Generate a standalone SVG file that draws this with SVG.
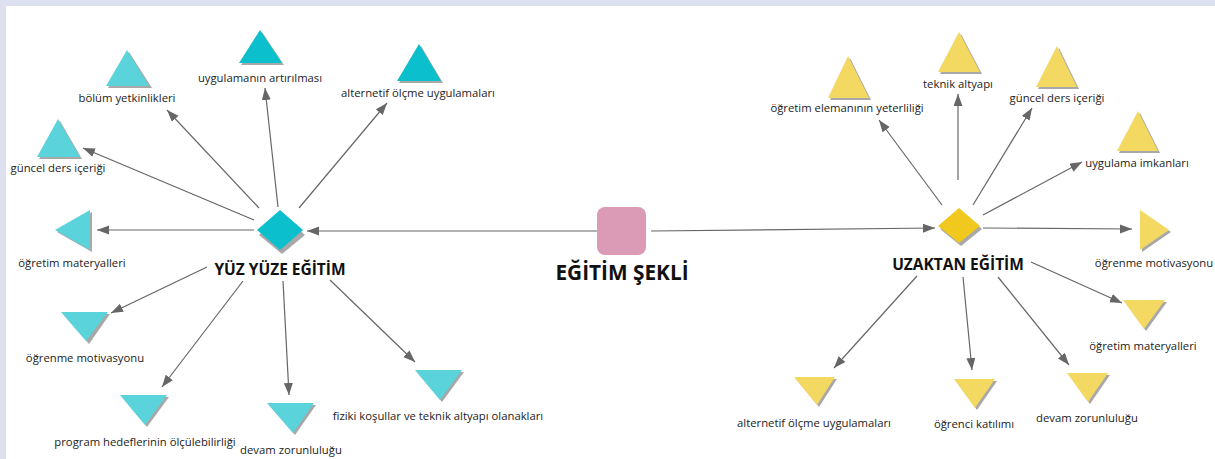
<svg xmlns="http://www.w3.org/2000/svg" width="1215" height="459" viewBox="0 0 1215 459">
<defs>
<marker id="ah" markerUnits="userSpaceOnUse" markerWidth="13" markerHeight="10" refX="12" refY="4.5" orient="auto">
<path d="M0,0 L12,4.5 L0,9 z" fill="#666"/>
</marker>
<style>
.bg{fill:#dde0ee}
.lbl{font-family:"Open Sans","Noto Sans","Liberation Sans",sans-serif;font-size:11.3px;fill:#222;text-anchor:middle}
.hub{font-family:"Open Sans","Noto Sans","Liberation Sans",sans-serif;font-weight:bold;font-size:15.5px;fill:#111;text-anchor:middle}
.main{font-family:"Open Sans","Noto Sans","Liberation Sans",sans-serif;font-weight:bold;font-size:20.8px;fill:#111;text-anchor:middle}
.sh{fill:#a8a8a8}
.c1{fill:#5ad3db}
.c2{fill:#0cbfcc}
.y1{fill:#f3d862}
.y2{fill:#f0c81e}
.ln{stroke:#666;stroke-width:1.2;fill:none;marker-end:url(#ah)}
</style>
</defs>
<rect x="0" y="0" width="1215" height="459" fill="#ffffff"/>
<rect class="bg" x="0" y="0" width="1215" height="6"/>
<rect class="bg" x="0" y="0" width="6" height="459"/>

<g id="connectors">
<line class="ln" x1="597" y1="231" x2="307" y2="231"/>
<line class="ln" x1="651" y1="231" x2="935" y2="228"/>
<line class="ln" x1="259" y1="208" x2="167" y2="110"/>
<line class="ln" x1="278" y1="207" x2="265" y2="88"/>
<line class="ln" x1="299" y1="208" x2="387" y2="103"/>
<line class="ln" x1="254" y1="220" x2="83" y2="148"/>
<line class="ln" x1="254" y1="230" x2="97" y2="230"/>
<line class="ln" x1="207" y1="267" x2="111" y2="313"/>
<line class="ln" x1="243" y1="281" x2="162" y2="387"/>
<line class="ln" x1="283" y1="281" x2="289" y2="395"/>
<line class="ln" x1="330" y1="280" x2="415" y2="362"/>
<line class="ln" x1="942" y1="205" x2="879" y2="120"/>
<line class="ln" x1="958" y1="180" x2="958" y2="94"/>
<line class="ln" x1="973" y1="205" x2="1032" y2="108"/>
<line class="ln" x1="983" y1="215" x2="1082" y2="162"/>
<line class="ln" x1="983" y1="228" x2="1132" y2="229"/>
<line class="ln" x1="1031" y1="262" x2="1122" y2="303"/>
<line class="ln" x1="917" y1="276" x2="834" y2="368"/>
<line class="ln" x1="963" y1="277" x2="972" y2="370"/>
<line class="ln" x1="998" y1="277" x2="1069" y2="365"/>
</g>

<g id="egitim-sekli">
<rect x="597" y="207" width="49" height="48" rx="8" fill="#db9bb7"/>
<text class="main" x="622" y="280">EĞİTİM ŞEKLİ</text>
</g>

<g id="yuz-yuze">
<polygon class="sh" points="282,214 305,235 282,254 259,235"/>
<polygon class="c2" points="280,210 303,230 280,250 257,230"/>
<text class="hub" x="280" y="275">YÜZ YÜZE EĞİTİM</text>
</g>

<g id="uzaktan">
<polygon class="sh" points="961,211 982,229 961,246 940,229"/>
<polygon class="y2" points="959,208 980,226 959,243 938,226"/>
<text class="hub" x="958" y="270">UZAKTAN EĞİTİM</text>
</g>

<g id="l-bolum">
<polygon class="sh" points="129,52 152,88 108,88"/>
<polygon class="c1" points="127,50 149,86 106,86"/>
<text class="lbl" x="127" y="102">bölüm yetkinlikleri</text>
</g>
<g id="l-uygulamanin">
<polygon class="sh" points="262,32 284,65 241,65"/>
<polygon class="c2" points="260,30 282,63 239,63"/>
<text class="lbl" x="260" y="82">uygulamanın artırılması</text>
</g>
<g id="l-alternetif">
<polygon class="sh" points="421,46 443,83 399,83"/>
<polygon class="c2" points="419,44 441,81 397,81"/>
<text class="lbl" x="418" y="97">alternetif ölçme uygulamaları</text>
</g>
<g id="l-guncel">
<polygon class="sh" points="60,121 82,159 39,159"/>
<polygon class="c1" points="58,119 80,157 37,157"/>
<text class="lbl" x="58" y="172">güncel ders içeriği</text>
</g>
<g id="l-ogretim-mat">
<polygon class="sh" points="57,232 92,212 92,252"/>
<polygon class="c1" points="55,230 90,210 90,250"/>
<text class="lbl" x="72" y="267">öğretim materyalleri</text>
</g>
<g id="l-ogrenme">
<polygon class="sh" points="63,314 110,314 89,344"/>
<polygon class="c1" points="61,312 108,312 86,341"/>
<text class="lbl" x="85" y="362">öğrenme motivasyonu</text>
</g>
<g id="l-program">
<polygon class="sh" points="122,397 169,397 147,427"/>
<polygon class="c1" points="120,395 167,395 145,425"/>
<text class="lbl" x="145" y="446">program hedeflerinin ölçülebilirliği</text>
</g>
<g id="l-devam">
<polygon class="sh" points="269,405 316,405 295,435"/>
<polygon class="c1" points="267,403 314,403 293,433"/>
<text class="lbl" x="291" y="454">devam zorunluluğu</text>
</g>
<g id="l-fiziki">
<polygon class="sh" points="417,372 464,372 442,402"/>
<polygon class="c1" points="415,370 462,370 440,400"/>
<text class="lbl" x="438" y="420">fiziki koşullar ve teknik altyapı olanakları</text>
</g>

<g id="r-ogretim-elemani">
<polygon class="sh" points="850,58 871,100 830,100"/>
<polygon class="y1" points="848,56 869,98 828,98"/>
<text class="lbl" x="847" y="112">öğretim elemanının yeterliliği</text>
</g>
<g id="r-teknik">
<polygon class="sh" points="961,34 982,74 940,74"/>
<polygon class="y1" points="959,32 980,72 938,72"/>
<text class="lbl" x="958" y="88">teknik altyapı</text>
</g>
<g id="r-guncel">
<polygon class="sh" points="1059,48 1079,89 1038,89"/>
<polygon class="y1" points="1057,46 1077,87 1036,87"/>
<text class="lbl" x="1057" y="102">güncel ders içeriği</text>
</g>
<g id="r-uygulama">
<polygon class="sh" points="1140,113 1160,153 1119,153"/>
<polygon class="y1" points="1138,111 1158,151 1117,151"/>
<text class="lbl" x="1137" y="167">uygulama imkanları</text>
</g>
<g id="r-ogrenme">
<polygon class="sh" points="1142,212 1171,232 1142,252"/>
<polygon class="y1" points="1140,210 1169,230 1140,250"/>
<text class="lbl" x="1154" y="267">öğrenme motivasyonu</text>
</g>
<g id="r-ogretim-mat">
<polygon class="sh" points="1125,302 1167,302 1146,331"/>
<polygon class="y1" points="1123,300 1165,300 1144,329"/>
<text class="lbl" x="1143" y="350">öğretim materyalleri</text>
</g>
<g id="r-alternetif">
<polygon class="sh" points="796,379 837,379 819,407"/>
<polygon class="y1" points="794,377 835,377 817,405"/>
<text class="lbl" x="814" y="427">alternetif ölçme uygulamaları</text>
</g>
<g id="r-ogrenci">
<polygon class="sh" points="956,381 997,381 977,410"/>
<polygon class="y1" points="954,379 995,379 975,408"/>
<text class="lbl" x="974" y="428">öğrenci katılımı</text>
</g>
<g id="r-devam">
<polygon class="sh" points="1069,375 1110,375 1090,404"/>
<polygon class="y1" points="1067,373 1108,373 1088,402"/>
<text class="lbl" x="1087" y="422">devam zorunluluğu</text>
</g>
</svg>
